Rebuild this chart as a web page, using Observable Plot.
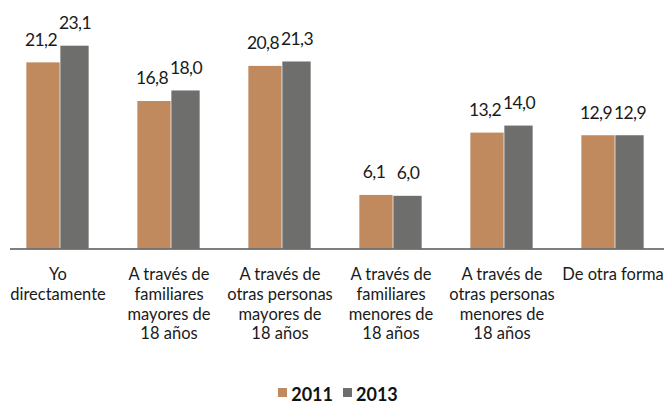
<!DOCTYPE html>
<html>
<head>
<meta charset="utf-8">
<script src="https://cdn.jsdelivr.net/npm/d3@7"></script>
<script src="https://cdn.jsdelivr.net/npm/@observablehq/plot@0.6"></script>
<style>
  html, body { margin: 0; padding: 0; background: #fff; }
  #chart svg { display: block; }
  .legend { display: flex; justify-content: center; margin-top: 13px; padding-left: 12px;
    font-family: Lato, sans-serif; font-weight: bold; font-size: 18px; line-height: 18px; color: #111; }
  .legend .item { margin: 0 5px; white-space: nowrap; }
  .legend .sw { display: inline-block; width: 9px; height: 9px; margin-right: 4px; margin-bottom: 4px; vertical-align: baseline; }
  .vlab text { letter-spacing: -0.6px; }
</style>
</head>
<body>
<div id="chart"></div>
<script>
const categories = [
  "Yo directamente",
  "A través de familiares mayores de 18 años",
  "A través de otras personas mayores de 18 años",
  "A través de familiares menores de 18 años",
  "A través de otras personas menores de 18 años",
  "De otra forma"
];
const tickLabels = [
  "Yo\ndirectamente",
  "A través de\nfamiliares\nmayores de\n18 años",
  "A través de\notras personas\nmayores de\n18 años",
  "A través de\nfamiliares\nmenores de\n18 años",
  "A través de\notras personas\nmenores de\n18 años",
  "De otra forma"
];
const years = ["2011", "2013"];
const values2011 = [21.2, 16.8, 20.8, 6.1, 13.2, 12.9];
const values2013 = [23.1, 18.0, 21.3, 6.0, 14.0, 12.9];
const colors = ["#C08A5E", "#6E6E6C"];

const rows2011 = categories.map((c, i) => ({category: c, year: "2011", value: values2011[i]}));
const rows2013 = categories.map((c, i) => ({category: c, year: "2013", value: values2013[i]}));
const fmt = v => d3.format(".1f")(v).replace(".", ",");

const chart = Plot.plot({
  width: 664,
  height: 372,
  marginTop: 29,
  marginBottom: 123.5,
  marginLeft: 0,
  marginRight: 0,
  style: {fontFamily: "Lato, sans-serif", fontSize: "16px", color: "#1a1a1a", background: "#fff"},
  x: {type: "band", domain: categories, range: [-0.55, 669.65], padding: 0},
  y: {domain: [0, 25], axis: null},
  color: {domain: years, range: colors},
  marks: [
    Plot.barY(rows2011, {x: "category", y: "value", fill: "year", insetLeft: 24.35, insetRight: 53.35}),
    Plot.barY(rows2013, {x: "category", y: "value", fill: "year", insetLeft: 58.35, insetRight: 24.35}),
    Plot.ruleY([0], {stroke: "#555", strokeWidth: 1.5, insetLeft: 10}),
    Plot.text(rows2011, {x: "category", y: "value", text: d => fmt(d.value), dx: -17, dy: -17, lineAnchor: "bottom", fontSize: 17.5, fill: "#1a1a1a", className: "vlab"}),
    Plot.text(rows2013, {x: "category", y: "value", text: d => fmt(d.value), dx: 17, dy: -17, lineAnchor: "bottom", fontSize: 17.5, fill: "#1a1a1a", className: "vlab"}),
    Plot.axisX({tickSize: 0, tickPadding: 17, fontSize: 16.5, lineHeight: 1.2, label: null,
      tickFormat: d => tickLabels[categories.indexOf(d)]})
  ]
});
document.getElementById("chart").appendChild(chart);

const colorScale = chart.scale("color");
const legend = document.createElement("div");
legend.className = "legend";
colorScale.domain.forEach((y, i) => {
  const item = document.createElement("span");
  item.className = "item";
  const sw = document.createElement("span");
  sw.className = "sw";
  sw.style.background = colorScale.range[i];
  item.appendChild(sw);
  item.appendChild(document.createTextNode(y));
  legend.appendChild(item);
});
document.body.appendChild(legend);
</script>
</body>
</html>
